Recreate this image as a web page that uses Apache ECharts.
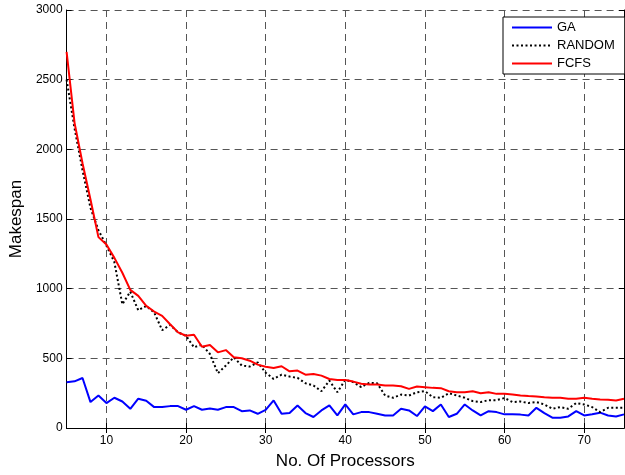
<!DOCTYPE html>
<html>
<head>
<meta charset="utf-8">
<script src="https://cdn.jsdelivr.net/npm/echarts@6/dist/echarts.min.js"></script>
<style>html,body{margin:0;padding:0;background:#fff}#c{width:625px;height:475px}</style>
</head>
<body>
<div id="c"></div>
<script>
var processors = [];
for (var i = 5; i <= 75; i++) processors.push(i);
var xTicks = [10, 20, 30, 40, 50, 60, 70];
var seriesNames = ['GA', 'RANDOM', 'FCFS'];
var gaValues = [328,335,359,186,233,179,217,190,138,210,195,150,150,157,157,131,157,131,140,131,150,150,121,126,102,130,198,102,107,162,107,79,126,162,90,169,98,114,114,102,90,90,138,126,86,155,121,169,79,102,169,126,90,121,114,98,98,96,90,145,107,74,74,83,121,90,98,110,90,83,98];
var randomValues = [2500,2150,1850,1580,1420,1310,1190,888,978,845,876,829,702,740,686,662,579,598,531,393,448,507,448,441,471,397,352,383,369,360,321,305,264,340,257,345,329,293,324,321,233,217,240,233,257,264,221,217,250,233,217,193,186,200,200,215,186,190,179,186,169,138,150,138,179,169,150,114,145,145,145];
var fcfsValues = [2700,2190,1900,1640,1370,1317,1221,1114,991,948,876,836,805,745,686,662,669,583,595,543,559,507,500,483,455,440,431,443,407,412,383,388,376,352,345,345,333,317,312,312,305,305,300,281,298,293,288,286,264,257,257,264,250,257,245,245,240,233,229,226,221,217,217,210,210,217,210,205,203,198,210];

function pairs(vals) { return processors.map(function (p, i) { return [p, vals[i]]; }); }

var font = 'Liberation Sans, Arial, sans-serif';
var gridDash = { color: '#555', type: [7, 5], width: 1 };
var chart = echarts.init(document.getElementById('c'));
chart.setOption({
  animation: false,
  backgroundColor: '#fff',
  grid: { left: 66, right: 1, top: 10, bottom: 44, containLabel: false },
  legend: {
    orient: 'vertical', left: 503, top: 17,
    itemWidth: 40, itemHeight: 12, itemGap: 5,
    padding: [4, 10, 4, 8],
    backgroundColor: '#fff', borderColor: '#000', borderWidth: 1,
    itemStyle: { opacity: 0 },
    textStyle: { fontSize: 13, color: '#000', fontFamily: font },
    data: seriesNames
  },
  xAxis: [{
    type: 'value', min: 5, max: 75, position: 'bottom',
    name: 'No. Of Processors', nameLocation: 'middle', nameGap: 25,
    nameTextStyle: { fontSize: 17, color: '#000', fontFamily: font },
    axisLine: { show: true, lineStyle: { color: '#000', width: 1 } },
    axisTick: { show: true, inside: true, length: 5, customValues: xTicks, lineStyle: { color: '#000' } },
    axisLabel: { customValues: xTicks, margin: 7, fontSize: 12, color: '#000', fontFamily: font },
    splitLine: { show: true, lineStyle: gridDash }
  }, {
    type: 'value', min: 5, max: 75, position: 'top',
    axisLine: { show: true, lineStyle: { color: '#000', width: 1 } },
    axisTick: { show: true, inside: true, length: 5, customValues: xTicks, lineStyle: { color: '#000' } },
    axisLabel: { show: false },
    splitLine: { show: false }
  }],
  yAxis: [{
    type: 'value', min: 0, max: 3000, interval: 500, position: 'left',
    name: 'Makespan', nameLocation: 'middle', nameGap: 40,
    nameTextStyle: { fontSize: 17, color: '#000', fontFamily: font },
    axisLine: { show: true, lineStyle: { color: '#000', width: 1 } },
    axisTick: { show: true, inside: true, length: 5, lineStyle: { color: '#000' } },
    axisLabel: { margin: 4, fontSize: 12, color: '#000', fontFamily: font, formatter: function (v) { return String(v); } },
    splitLine: { show: true, lineStyle: gridDash }
  }, {
    type: 'value', min: 0, max: 3000, interval: 500, position: 'right',
    axisLine: { show: true, lineStyle: { color: '#000', width: 1 } },
    axisTick: { show: true, inside: true, length: 5, lineStyle: { color: '#000' } },
    axisLabel: { show: false },
    splitLine: { show: false }
  }],
  series: [
    { name: 'GA', type: 'line', data: pairs(gaValues), symbol: 'none', color: '#0000ff',
      lineStyle: { color: '#0000ff', width: 2 } },
    { name: 'RANDOM', type: 'line', data: pairs(randomValues), symbol: 'none', color: '#000000',
      lineStyle: { color: '#000000', width: 2, type: [2, 2.5] } },
    { name: 'FCFS', type: 'line', data: pairs(fcfsValues), symbol: 'none', color: '#ff0000',
      lineStyle: { color: '#ff0000', width: 2 } }
  ]
});
</script>
</body>
</html>
